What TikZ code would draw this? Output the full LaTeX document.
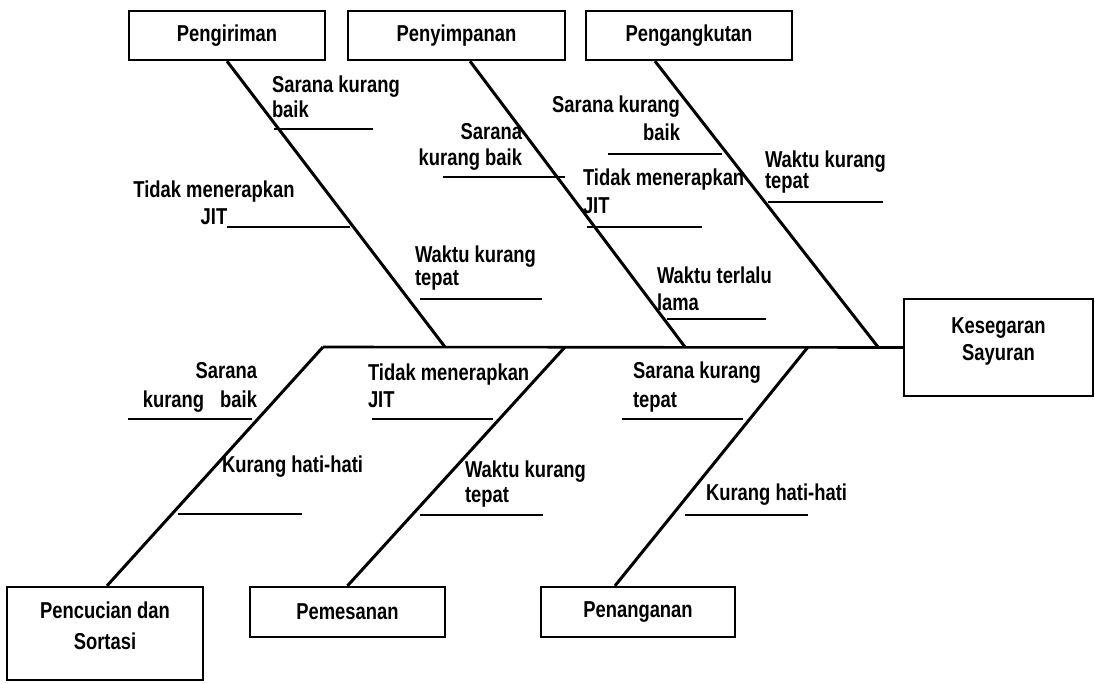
\documentclass[tikz,border=0pt]{standalone}
\usepackage{fontspec}
\setmainfont{Liberation Sans}[FakeStretch=0.80,UprightFont=*-Bold]
\begin{document}
\begin{tikzpicture}[x=1pt,y=-1pt,
  font=\fontsize{23}{27}\selectfont,
  box/.style={draw, line width=2.4pt, inner sep=0pt, align=center},
  bone/.style={line width=3pt},
  spine/.style={line width=2.6pt},
  uline/.style={line width=2pt},
  lbl/.style={inner sep=0pt, outer sep=0pt},
  lblL/.style={lbl, align=left, anchor=base west},
  lblR/.style={lbl, align=right, anchor=base east},
  lblC/.style={lbl, align=center, anchor=base}]
\useasboundingbox[fill=white] (0,0) rectangle (1095,683);

% boxes
\node[box, minimum width=196pt, minimum height=49pt] (b1) at (227,35.5) {Pengiriman};
\node[box, minimum width=217pt, minimum height=49pt] (b2) at (456.5,35.5) {Penyimpanan};
\node[box, minimum width=206pt, minimum height=49pt] (b3) at (689,35.5) {Pengangkutan};
\node[box, minimum width=196pt, minimum height=93pt] (b4) at (105,633.5) {Pencucian dan\\[4pt]Sortasi\\[-11pt]};
\node[box, minimum width=195pt, minimum height=50pt] (b5) at (347.5,612) {Pemesanan};
\node[box, minimum width=194pt, minimum height=50pt] (b6) at (638,612) {Penanganan};
\node[box, minimum width=189pt, minimum height=97pt] (goal) at (998.5,347.5) {Kesegaran\\Sayuran\\[-11pt]};

% spine
\coordinate (s0) at (323,347);
\draw[spine] (s0) -- (goal.west);

% bones
\coordinate (t1) at (445,347);
\coordinate (t2) at (685,347);
\coordinate (t3) at (878,347);
\coordinate (u2) at (565,347);
\coordinate (u3) at (808,347);
\draw[bone] (b1.south) -- (t1);
\draw[bone] ([xshift=13.5pt]b2.south) -- (t2);
\draw[bone] ([xshift=-34pt]b3.south) -- (t3);
\draw[bone] ([xshift=2pt]b4.north) -- (s0);
\draw[bone] (b5.north) -- (u2);
\draw[bone] ([xshift=-23pt]b6.north) -- (u3);

% cause underlines
\draw[uline] (274,129) -- (373,129);
\draw[uline] (227,227) -- (350,227);
\draw[uline] (420,299) -- (542,299);
\draw[uline] (443,177) -- (565,177);
\draw[uline] (587,227) -- (702,227);
\draw[uline] (667,319) -- (766,319);
\draw[uline] (608,154) -- (722,154);
\draw[uline] (768,202) -- (883,202);
\draw[uline] (128,419) -- (252,419);
\draw[uline] (178,514) -- (302,514);
\draw[uline] (372,419) -- (493,419);
\draw[uline] (420,515) -- (543,515);
\draw[uline] (622,419) -- (743,419);
\draw[uline] (685,515) -- (808,515);

% cause labels (anchored at the baseline of the last line)
\node[lblL] (c1) at (272,117) {Sarana kurang\\[-2pt]baik};
\node[lblC] (c2) at (214,224) {Tidak menerapkan\\JIT};
\node[lblL] (c3) at (415,285) {Waktu kurang\\[-4pt]tepat};
\node[lblR] (c4) at (522,165) {Sarana\\[-1pt]kurang baik};
\node[lblL] (c5) at (583,213) {Tidak menerapkan\\[1pt]JIT};
\node[lblL] (c6) at (657,310) {Waktu terlalu\\lama};
\node[lblR] (c7) at (680,140) {Sarana kurang\\[1pt]baik};
\node[lblL] (c8) at (765,188) {Waktu kurang\\[-6pt]tepat};
\node[lblR] (c9) at (257,407) {Sarana\\[2pt]kurang\hspace{16pt}baik};
\node[lblL] (c10) at (222,472) {Kurang hati-hati};
\node[lblL] (c11) at (368,407) {Tidak menerapkan\\JIT};
\node[lblL] (c12) at (465,502) {Waktu kurang\\[-2pt]tepat};
\node[lblL] (c13) at (633,407) {Sarana kurang\\[2pt]tepat};
\node[lblL] (c14) at (706,500) {Kurang hati-hati};
\end{tikzpicture}
\end{document}
